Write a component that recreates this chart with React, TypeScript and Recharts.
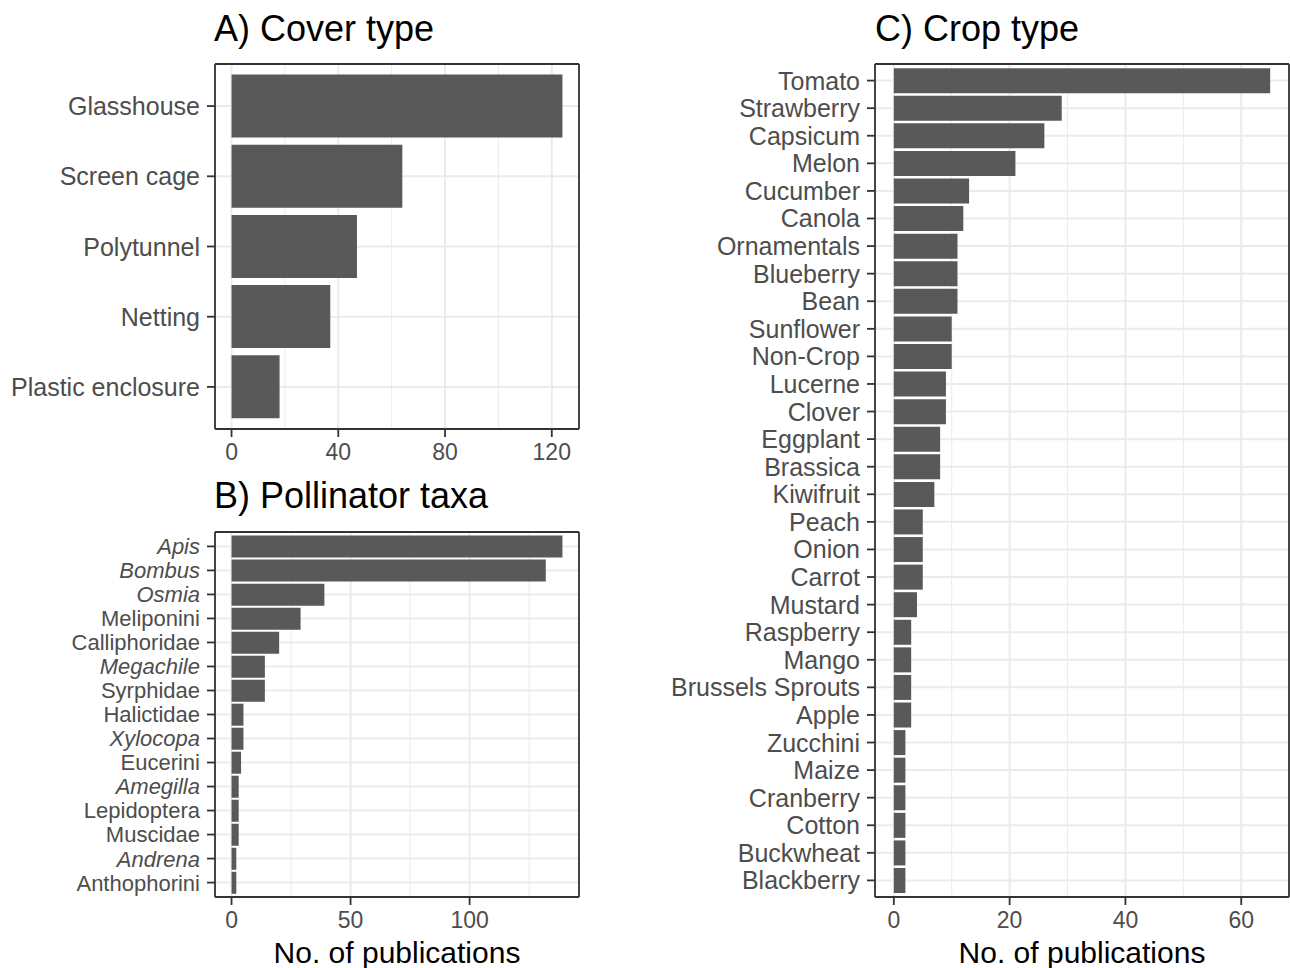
import React from "react";
import { BarChart, Bar, XAxis, YAxis, CartesianGrid } from "recharts";

// A) Cover type
const coverTypes = ["Glasshouse", "Screen cage", "Polytunnel", "Netting", "Plastic enclosure"];
const coverCounts = [124, 64, 47, 37, 18];
const coverTicks = [0, 40, 80, 120];
const coverMinor = [20, 60, 100];

// B) Pollinator taxa
const taxa = [
  "Apis", "Bombus", "Osmia", "Meliponini", "Calliphoridae", "Megachile", "Syrphidae",
  "Halictidae", "Xylocopa", "Eucerini", "Amegilla", "Lepidoptera", "Muscidae", "Andrena",
  "Anthophorini",
];
const taxaCounts = [139, 132, 39, 29, 20, 14, 14, 5, 5, 4, 3, 3, 3, 2, 2];
const italicTaxa = ["Apis", "Bombus", "Osmia", "Megachile", "Xylocopa", "Amegilla", "Andrena"];
const taxaTicks = [0, 50, 100];
const taxaMinor = [25, 75, 125];

// C) Crop type
const crops = [
  "Tomato", "Strawberry", "Capsicum", "Melon", "Cucumber", "Canola", "Ornamentals",
  "Blueberry", "Bean", "Sunflower", "Non-Crop", "Lucerne", "Clover", "Eggplant", "Brassica",
  "Kiwifruit", "Peach", "Onion", "Carrot", "Mustard", "Raspberry", "Mango",
  "Brussels Sprouts", "Apple", "Zucchini", "Maize", "Cranberry", "Cotton", "Buckwheat",
  "Blackberry",
];
const cropCounts = [
  65, 29, 26, 21, 13, 12, 11, 11, 11, 10, 10, 9, 9, 8, 8, 7, 5, 5, 5, 4, 3, 3, 3, 3, 2, 2, 2,
  2, 2, 2,
];
const cropTicks = [0, 20, 40, 60];
const cropMinor = [10, 30, 50];

const FONT = "'Liberation Sans', Arial, Helvetica, sans-serif";
const INK = "#333333";
const LABEL = "#4D4D4D";
const GRID = "#EBEBEB";

type PanelProps = {
  names: string[];
  values: number[];
  ticks: number[];
  minor: number[];
  italics?: string[];
  left: number;
  top: number;
  width: number;
  height: number;
  margin: { top: number; right: number; bottom: number; left: number };
  yAxisWidth: number;
  xAxisHeight: number;
  labelSize: number;
  yPad: number;
  xTitle?: string;
};

const Panel = ({
  names, values, ticks, minor, italics = [], left, top, width, height, margin,
  yAxisWidth, xAxisHeight, labelSize, yPad, xTitle,
}: PanelProps) => {
  const data = names.map((name, i) => ({ name, value: values[i] }));
  const max = Math.max(...values);
  const domain = [-0.05 * max, 1.05 * max];

  // minor vertical grid lines (halfway between the labelled ticks)
  const minorLines = ({ xAxis, offset }: any) => {
    const s = xAxis && xAxis.scale;
    if (typeof s === "function") return minor.map((v) => s(v));
    if (s && typeof s.map === "function") return minor.map((v) => s.map(v));
    return minor.map(
      (v) => offset.left + ((v - domain[0]) / (domain[1] - domain[0])) * offset.width
    );
  };

  const YTick = ({ x, y, payload }: any) => (
    <text
      x={x}
      y={y}
      dy="0.36em"
      textAnchor="end"
      fontSize={labelSize}
      fill={LABEL}
      fontStyle={italics.includes(payload.value) ? "italic" : "normal"}
    >
      {payload.value}
    </text>
  );

  return (
    <div style={{ position: "absolute", left, top, width, height }}>
      <BarChart
        width={width}
        height={height}
        data={data}
        layout="vertical"
        margin={margin}
        barCategoryGap="5%"
      >
        <CartesianGrid
          horizontal={false}
          stroke={GRID}
          strokeWidth={1}
          verticalCoordinatesGenerator={minorLines}
        />
        <CartesianGrid stroke={GRID} strokeWidth={2} />
        <XAxis
          type="number"
          domain={domain}
          ticks={ticks}
          interval={0}
          height={xAxisHeight}
          stroke={INK}
          strokeWidth={1.8}
          tickSize={8}
          tickMargin={7}
          tick={{ fontSize: 23, fill: LABEL }}
          label={
            xTitle
              ? { value: xTitle, position: "insideBottom", offset: 2, fontSize: 30, fill: "#000" }
              : undefined
          }
        />
        {/* top edge of the panel border */}
        <XAxis
          xAxisId="top"
          orientation="top"
          type="number"
          domain={domain}
          height={1}
          tick={false}
          tickLine={false}
          stroke={INK}
          strokeWidth={1.8}
        />
        <YAxis
          type="category"
          dataKey="name"
          width={yAxisWidth}
          interval={0}
          padding={{ top: yPad, bottom: yPad }}
          stroke={INK}
          strokeWidth={1.8}
          tickSize={8}
          tickMargin={7}
          tick={<YTick />}
        />
        {/* right edge of the panel border */}
        <YAxis
          yAxisId="right"
          orientation="right"
          type="category"
          dataKey="name"
          width={1}
          tick={false}
          tickLine={false}
          stroke={INK}
          strokeWidth={1.8}
        />
        <Bar dataKey="value" fill="#595959" isAnimationActive={false} />
      </BarChart>
    </div>
  );
};

const titleStyle = (left: number, top: number): React.CSSProperties => ({
  position: "absolute",
  left,
  top,
  fontSize: 36,
  lineHeight: "36px",
  color: "#000",
  whiteSpace: "nowrap",
});

export default function App() {
  return (
    <div
      style={{
        position: "absolute",
        left: 0,
        top: 0,
        width: 1290,
        height: 968,
        background: "#fff",
        fontFamily: FONT,
        overflow: "hidden",
      }}
    >
      <div style={titleStyle(214, 11)}>A) Cover type</div>
      <div style={titleStyle(214, 478)}>B) Pollinator taxa</div>
      <div style={titleStyle(875, 11)}>C) Crop type</div>

      <Panel
        names={coverTypes}
        values={coverCounts}
        ticks={coverTicks}
        minor={coverMinor}
        left={0}
        top={0}
        width={600}
        height={480}
        margin={{ top: 63, right: 20, bottom: 11, left: 0 }}
        yAxisWidth={215}
        xAxisHeight={40}
        labelSize={25}
        yPad={7}
      />
      <Panel
        names={taxa}
        values={taxaCounts}
        ticks={taxaTicks}
        minor={taxaMinor}
        italics={italicTaxa}
        left={0}
        top={480}
        width={600}
        height={488}
        margin={{ top: 51, right: 20, bottom: 3, left: 0 }}
        yAxisWidth={215}
        xAxisHeight={68}
        labelSize={22}
        yPad={2.4}
        xTitle="No. of publications"
      />
      <Panel
        names={crops}
        values={cropCounts}
        ticks={cropTicks}
        minor={cropMinor}
        left={600}
        top={0}
        width={690}
        height={968}
        margin={{ top: 63, right: 0, bottom: 3, left: 0 }}
        yAxisWidth={275}
        xAxisHeight={68}
        labelSize={25}
        yPad={2.8}
        xTitle="No. of publications"
      />
    </div>
  );
}
